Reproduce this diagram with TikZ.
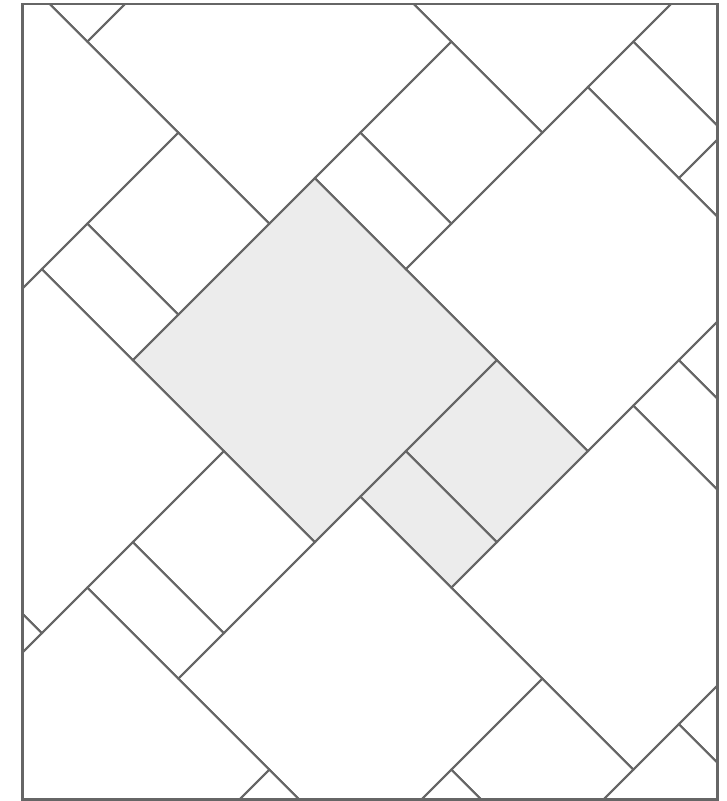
\documentclass[tikz,border=0pt]{standalone}
\usepackage{tikz}
\definecolor{linegray}{HTML}{666666}
\definecolor{fillgray}{HTML}{ECECEC}
\tikzset{
  tileline/.style={draw=linegray, line width=2pt, line join=miter},
  framebox/.style={draw=linegray, line width=2.6pt},
  tilefill/.style={fill=fillgray}
}
\begin{document}
\begin{tikzpicture}[x=1pt,y=1pt]
\useasboundingbox (0,0) rectangle (727,801);
\begin{scope}
  \clip (22.3,1.7) rectangle (717.3,797);
  \begin{scope}[shift={(314.85,622.85)}, x={(45.5pt,-45.5pt)}, y={(45.5pt,45.5pt)}]
    % highlighted fundamental region
    \fill[tilefill] (0,-4) -- (4,-4) -- (4,0) -- (0,0) -- cycle;
    \fill[tilefill] (4,-2) -- (6,-2) -- (6,0) -- (4,0) -- cycle;
    \fill[tilefill] (4,-3) -- (6,-3) -- (6,-2) -- (4,-2) -- cycle;
    \foreach \m in {-6,...,6}{
      \foreach \n in {-6,...,6}{
        \begin{scope}[shift={({2*\m+4*\n},{4*\m-3*\n})}]
          \draw[tileline] (0,-4) -- (4,-4) -- (4,0) -- (0,0) -- cycle;
          \draw[tileline] (4,-2) -- (6,-2) -- (6,0) -- (4,0) -- cycle;
          \draw[tileline] (4,-3) -- (6,-3) -- (6,-2) -- (4,-2) -- cycle;
        \end{scope}
      }
    }
  \end{scope}
\end{scope}
\draw[framebox] (22.3,1.7) rectangle (717.3,797);
\end{tikzpicture}
\end{document}
